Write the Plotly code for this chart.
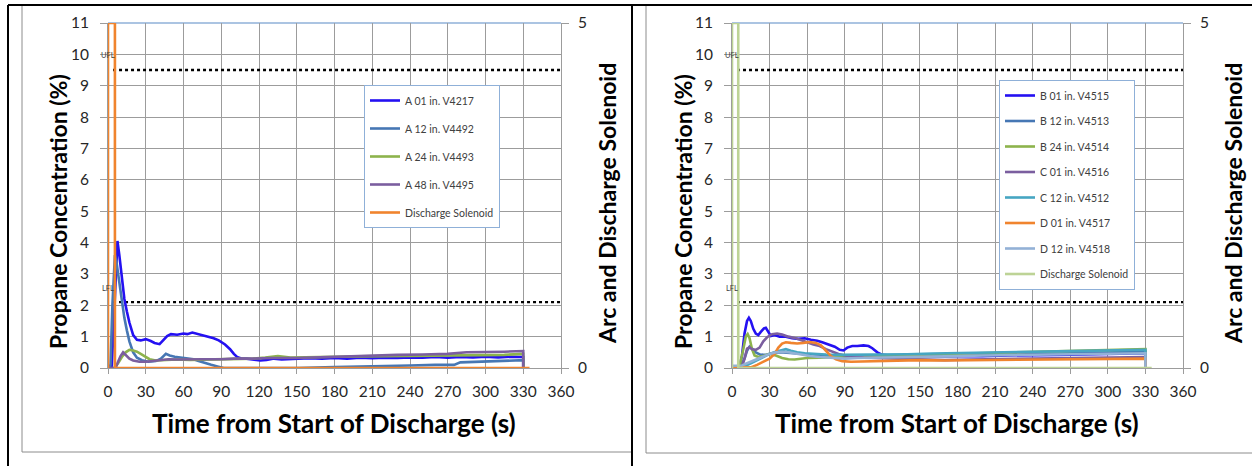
import plotly.graph_objects as go

W, H = 1252, 466

# ---------------- data: left chart (A sensors) ----------------
a01_t = [0, 3, 5, 7.5, 9, 11, 13, 15, 17, 20, 23, 26, 30, 34, 37, 41, 44, 47, 50, 55, 60, 63, 67, 70, 74, 78, 84, 88, 93, 97, 100, 103, 106, 110, 115, 121, 126, 132, 138, 145, 150, 160, 170, 180, 190, 200, 210, 220, 230, 240, 250, 260, 270, 280, 290, 300, 310, 320, 330, 330]
a01_v = [0.02, 0.05, 1.8, 4.05, 3.6, 2.8, 2.2, 1.8, 1.45, 1.05, 0.9, 0.88, 0.92, 0.86, 0.8, 0.76, 0.9, 1.02, 1.08, 1.06, 1.1, 1.08, 1.13, 1.1, 1.05, 1.0, 0.95, 0.88, 0.75, 0.6, 0.45, 0.34, 0.3, 0.3, 0.27, 0.24, 0.26, 0.3, 0.27, 0.28, 0.3, 0.31, 0.3, 0.32, 0.3, 0.33, 0.31, 0.33, 0.32, 0.34, 0.33, 0.35, 0.33, 0.35, 0.34, 0.36, 0.34, 0.36, 0.35, 0]

a12_t = [0, 2, 3.5, 5.5, 7, 9, 11, 13, 15, 17, 20, 23, 27, 32, 38, 42, 46, 49, 53, 58, 63, 68, 72, 77, 82, 87, 92, 120, 150, 180, 200, 220, 240, 260, 275, 280, 300, 320, 330, 330]
a12_v = [0, 0.1, 2.0, 3.6, 3.3, 2.7, 2.1, 1.6, 1.2, 0.85, 0.5, 0.33, 0.25, 0.2, 0.22, 0.3, 0.45, 0.4, 0.36, 0.33, 0.3, 0.28, 0.22, 0.15, 0.1, 0.05, 0.0, 0.0, 0.0, 0.03, 0.04, 0.05, 0.08, 0.1, 0.1, 0.18, 0.2, 0.22, 0.25, 0]

a24_t = [0, 5, 8, 11, 14, 17, 20, 23, 26, 29, 33, 38, 45, 55, 65, 75, 85, 95, 105, 115, 125, 135, 145, 160, 180, 200, 220, 240, 260, 280, 300, 315, 330, 330]
a24_v = [0, 0, 0.15, 0.35, 0.5, 0.58, 0.56, 0.52, 0.45, 0.37, 0.28, 0.24, 0.25, 0.27, 0.26, 0.27, 0.28, 0.27, 0.28, 0.3, 0.33, 0.38, 0.33, 0.35, 0.36, 0.37, 0.38, 0.38, 0.4, 0.4, 0.42, 0.42, 0.45, 0]

a48_t = [0, 6, 8, 10, 12, 14, 17, 20, 25, 30, 36, 42, 48, 55, 65, 75, 90, 100, 115, 130, 150, 170, 190, 210, 230, 250, 270, 285, 300, 315, 330, 330]
a48_v = [0, 0, 0.2, 0.38, 0.5, 0.42, 0.3, 0.24, 0.2, 0.2, 0.22, 0.25, 0.28, 0.27, 0.28, 0.28, 0.28, 0.3, 0.3, 0.32, 0.32, 0.35, 0.37, 0.4, 0.42, 0.43, 0.45, 0.5, 0.5, 0.52, 0.54, 0]

solA_t = [0, 0, 5.5, 5.5, 335]
solA_v = [0, 5, 5, 0, 0]

# ---------------- data: right chart (B, C, D sensors) ----------------
b01_t = [0, 6, 8, 10, 12, 13.5, 15, 17, 19, 21, 23, 25.5, 27, 29, 31, 34, 38, 43, 48, 53, 58, 63, 68, 72, 77, 82, 86, 89, 92, 96, 100, 105, 109, 112, 116, 120, 130, 140, 160, 180, 200, 220, 240, 260, 280, 300, 320, 330, 330]
b01_v = [0.05, 0.05, 0.4, 1.1, 1.5, 1.6, 1.5, 1.25, 1.1, 1.05, 1.15, 1.26, 1.28, 1.15, 1.02, 1.05, 1.0, 1.0, 0.95, 0.93, 0.95, 0.9, 0.87, 0.82, 0.75, 0.68, 0.58, 0.56, 0.65, 0.7, 0.7, 0.72, 0.7, 0.63, 0.5, 0.42, 0.38, 0.38, 0.36, 0.38, 0.38, 0.4, 0.4, 0.42, 0.43, 0.45, 0.45, 0.47, 0]

b12_t = [0, 7, 10, 12, 14, 16, 19, 23, 28, 33, 38, 45, 55, 65, 75, 90, 110, 130, 150, 170, 190, 210, 230, 250, 270, 290, 310, 330, 330]
b12_v = [0.05, 0.05, 0.3, 0.55, 0.68, 0.62, 0.5, 0.42, 0.43, 0.48, 0.5, 0.48, 0.44, 0.42, 0.4, 0.38, 0.38, 0.38, 0.37, 0.38, 0.4, 0.42, 0.43, 0.44, 0.46, 0.48, 0.5, 0.52, 0]

b24_t = [0, 6, 9, 11, 12.5, 14, 16, 18, 21, 25, 30, 35, 40, 45, 50, 55, 60, 70, 80, 90, 100, 120, 140, 160, 180, 200, 220, 240, 260, 280, 300, 315, 330, 330]
b24_v = [0.05, 0.05, 0.6, 1.0, 1.08, 0.95, 0.6, 0.4, 0.35, 0.38, 0.45, 0.4, 0.32, 0.28, 0.27, 0.3, 0.32, 0.33, 0.35, 0.37, 0.38, 0.4, 0.42, 0.43, 0.45, 0.47, 0.48, 0.5, 0.52, 0.54, 0.56, 0.57, 0.6, 0]

c01_t = [0, 8, 10, 12, 14, 16, 19, 22, 25, 28, 32, 36, 40, 45, 50, 55, 60, 65, 70, 75, 80, 85, 90, 97, 105, 115, 130, 150, 170, 190, 210, 230, 250, 270, 290, 310, 330, 330]
c01_v = [0.05, 0.05, 0.3, 0.62, 0.66, 0.6, 0.58, 0.65, 0.85, 0.98, 1.08, 1.1, 1.07, 1.0, 0.96, 0.9, 0.82, 0.75, 0.7, 0.6, 0.52, 0.45, 0.4, 0.36, 0.33, 0.32, 0.3, 0.28, 0.25, 0.27, 0.28, 0.3, 0.3, 0.32, 0.32, 0.33, 0.35, 0]

c12_t = [0, 10, 15, 20, 25, 30, 35, 40, 43, 47, 52, 58, 65, 75, 85, 100, 120, 140, 160, 180, 200, 220, 240, 260, 280, 300, 320, 330, 330]
c12_v = [0.05, 0.06, 0.15, 0.25, 0.35, 0.45, 0.52, 0.58, 0.6, 0.55, 0.5, 0.47, 0.45, 0.43, 0.42, 0.42, 0.43, 0.44, 0.46, 0.48, 0.5, 0.5, 0.52, 0.53, 0.55, 0.56, 0.57, 0.58, 0]

d01_t = [0, 15, 20, 25, 30, 34, 37, 40, 43, 47, 52, 57, 62, 67, 71, 75, 79, 83, 88, 95, 110, 130, 150, 170, 190, 210, 230, 250, 270, 290, 310, 330, 330]
d01_v = [0.02, 0.02, 0.1, 0.2, 0.3, 0.45, 0.65, 0.78, 0.82, 0.8, 0.78, 0.8, 0.83, 0.8, 0.72, 0.55, 0.38, 0.28, 0.22, 0.2, 0.22, 0.23, 0.25, 0.24, 0.25, 0.26, 0.27, 0.27, 0.28, 0.28, 0.29, 0.3, 0]

d12_t = [0, 5, 8, 12, 16, 20, 25, 30, 35, 40, 45, 50, 55, 62, 70, 80, 90, 100, 120, 140, 160, 180, 200, 220, 240, 260, 280, 300, 320, 330, 330]
d12_v = [0.07, 0.07, 0.08, 0.15, 0.22, 0.3, 0.38, 0.45, 0.5, 0.52, 0.5, 0.46, 0.42, 0.38, 0.35, 0.32, 0.3, 0.32, 0.33, 0.35, 0.36, 0.38, 0.4, 0.41, 0.42, 0.43, 0.44, 0.45, 0.46, 0.47, 0]

solB_t = [0, 0, 5, 5, 335]
solB_v = [0, 5, 5, 0, 0]

# flammability limits (reference lines)
LFL = 2.1
UFL = 9.5
limit_t = [4, 360]

x_ticks = [0, 30, 60, 90, 120, 150, 180, 210, 240, 270, 300, 330, 360]
y_ticks = list(range(0, 12))
y2_ticks = [0, 5]

legendA = ["A 01 in. V4217", "A 12 in. V4492", "A 24 in. V4493", "A 48 in. V4495", "Discharge Solenoid"]
legendB = ["B 01 in. V4515", "B 12 in. V4513", "B 24 in. V4514", "C 01 in. V4516",
           "C 12 in. V4512", "D 01 in. V4517", "D 12 in. V4518", "Discharge Solenoid"]

# ---------------- styling ----------------
FONT = "Lato"
BLUE = "#2410f2"
STEEL = "#4677b4"
GREEN = "#8db34c"
PURPLE = "#7b5e9f"
TEAL = "#46a6c2"
ORANGE = "#f0842e"
LBLUE = "#93b1d6"
LGREEN = "#bdd396"
GRID = "#9c9c9c"
LW = 2.6

fig = go.Figure()

def add(xv, yv, name, color, xa, ya, legend, group):
    fig.add_trace(go.Scatter(x=xv, y=yv, name=name, mode="lines",
                             line=dict(color=color, width=LW),
                             xaxis=xa, yaxis=ya, legend=legend,
                             legendgroup=group))

def add_limits(xa, ya):
    for v in (LFL, UFL):
        fig.add_trace(go.Scatter(x=limit_t, y=[v, v], mode="lines",
                                 line=dict(color="black", width=2.4, dash="dot"),
                                 xaxis=xa, yaxis=ya, showlegend=False, hoverinfo="skip"))

# left chart
add_limits("x", "y")
add(a01_t, a01_v, legendA[0], BLUE, "x", "y", "legend", "a1")
add(a12_t, a12_v, legendA[1], STEEL, "x", "y", "legend", "a2")
add(a24_t, a24_v, legendA[2], GREEN, "x", "y", "legend", "a3")
add(a48_t, a48_v, legendA[3], PURPLE, "x", "y", "legend", "a4")
add(solA_t, solA_v, legendA[4], ORANGE, "x", "y2", "legend", "a5")

# right chart
add_limits("x2", "y3")
add(b01_t, b01_v, legendB[0], BLUE, "x2", "y3", "legend2", "b1")
add(b12_t, b12_v, legendB[1], STEEL, "x2", "y3", "legend2", "b2")
add(b24_t, b24_v, legendB[2], GREEN, "x2", "y3", "legend2", "b3")
add(c01_t, c01_v, legendB[3], PURPLE, "x2", "y3", "legend2", "b4")
add(c12_t, c12_v, legendB[4], TEAL, "x2", "y3", "legend2", "b5")
add(d01_t, d01_v, legendB[5], ORANGE, "x2", "y3", "legend2", "b6")
add(d12_t, d12_v, legendB[6], LBLUE, "x2", "y3", "legend2", "b7")
add(solB_t, solB_v, legendB[7], LGREEN, "x2", "y4", "legend2", "b8")

px = lambda p: p / W
py = lambda p: 1 - p / H

tickfont = dict(family=FONT, size=15.5, color="#262626")
xcommon = dict(range=[0, 360], tickvals=x_ticks, showgrid=True, gridcolor=GRID, gridwidth=1,
               zeroline=False, showline=True, linecolor=GRID, linewidth=1,
               ticks="outside", ticklen=5, tickcolor=GRID, tickfont=tickfont,
               ticklabelstandoff=4, fixedrange=True, automargin=False)
ycommon = dict(range=[0, 11], tickvals=y_ticks, showgrid=True, gridcolor=GRID, gridwidth=1,
               zeroline=False, showline=True, linecolor=GRID, linewidth=1,
               ticks="outside", ticklen=7, tickcolor=GRID, tickfont=tickfont,
               ticklabelstandoff=8, domain=[py(368), py(23)], fixedrange=True, automargin=False)
y2common = dict(range=[0, 5], tickvals=y2_ticks, showgrid=False, zeroline=False,
                showline=True, linecolor=GRID, side="right",
                ticks="outside", ticklen=7, tickcolor=GRID, tickfont=tickfont,
                ticklabelstandoff=6, fixedrange=True, automargin=False)

fig.update_layout(
    template="none",
    width=W, height=H, autosize=False,
    margin=dict(l=0, r=0, t=0, b=0, pad=0, autoexpand=False),
    font=dict(family=FONT),
    paper_bgcolor="white", plot_bgcolor="white",
    xaxis=dict(domain=[px(108), px(561)], anchor="y", **xcommon),
    yaxis=dict(anchor="x", **ycommon),
    yaxis2=dict(overlaying="y", anchor="x", **y2common),
    xaxis2=dict(domain=[px(732), px(1183)], anchor="y3", **xcommon),
    yaxis3=dict(anchor="x2", **ycommon),
    yaxis4=dict(overlaying="y3", anchor="x2", **y2common),
    legend=dict(x=px(364), y=py(85), xanchor="left", yanchor="top",
                bgcolor="white", bordercolor="#8fb0d8", borderwidth=1,
                font=dict(family=FONT, size=10.5, color="#404040"),
                traceorder="grouped", tracegroupgap=9, itemwidth=30),
    legend2=dict(x=px(999), y=py(80), xanchor="left", yanchor="top",
                 bgcolor="white", bordercolor="#8fb0d8", borderwidth=1,
                 font=dict(family=FONT, size=10.5, color="#404040"),
                 traceorder="grouped", tracegroupgap=6.5, itemwidth=30),
    showlegend=True,
)

# axis titles and limit labels
xtitlefont = dict(family=FONT, size=26, color="black", weight="bold")
ytitlefont = dict(family=FONT, size=23, color="black", weight="bold")
ann = []
for cx, lx, rx in ((334, 58, 607), (957, 683, 1233)):
    ann.append(dict(text="Time from Start of Discharge (s)", x=px(cx), y=py(423), xref="paper", yref="paper",
                    showarrow=False, font=xtitlefont, xanchor="center", yanchor="middle"))
    ann.append(dict(text="Propane Concentration (%)", x=px(lx), y=py(212), xref="paper", yref="paper",
                    showarrow=False, font=ytitlefont, textangle=-90, xanchor="center", yanchor="middle"))
    ann.append(dict(text="Arc and Discharge Solenoid", x=px(rx), y=py(204), xref="paper", yref="paper",
                    showarrow=False, font=ytitlefont, textangle=-90, xanchor="center", yanchor="middle"))
for xa, ya in (("x", "y"), ("x2", "y3")):
    ann.append(dict(text="LFL", x=0, y=LFL + 0.42, xref=xa, yref=ya, showarrow=False,
                    font=dict(family=FONT, size=7.5, color="#404040")))
    ann.append(dict(text="UFL", x=0, y=UFL + 0.47, xref=xa, yref=ya, showarrow=False,
                    font=dict(family=FONT, size=7.5, color="#404040")))
fig.update_layout(annotations=ann)

# frames: top border of plot areas, chart frames and table borders
shapes = []
for xr, yr in (("x domain", "y domain"), ("x2 domain", "y3 domain")):
    shapes.append(dict(type="line", xref=xr, yref=yr, x0=0, x1=1, y0=1, y1=1,
                       line=dict(color="#8fb0d8", width=1.5), layer="below"))
shapes += [
    dict(type="rect", xref="paper", yref="paper", x0=px(22), x1=px(632), y0=py(452), y1=py(5),
         line=dict(color="#8c8c8c", width=1)),
    dict(type="rect", xref="paper", yref="paper", x0=px(646), x1=px(1260), y0=py(453), y1=py(5),
         line=dict(color="#8c8c8c", width=1)),
    dict(type="line", xref="paper", yref="paper", x0=px(8), x1=px(1252), y0=py(5), y1=py(5),
         line=dict(color="black", width=2)),
    dict(type="line", xref="paper", yref="paper", x0=px(8), x1=px(8), y0=py(5), y1=py(466),
         line=dict(color="black", width=2)),
    dict(type="line", xref="paper", yref="paper", x0=px(632), x1=px(632), y0=py(5), y1=py(466),
         line=dict(color="black", width=2)),
]
fig.update_layout(shapes=shapes)

# the page's default body margin would shift the figure by 8 px
fig.write_html("out.html", config={"displayModeBar": False},
               post_script="document.body.style.margin='0';document.body.style.overflow='hidden';")
